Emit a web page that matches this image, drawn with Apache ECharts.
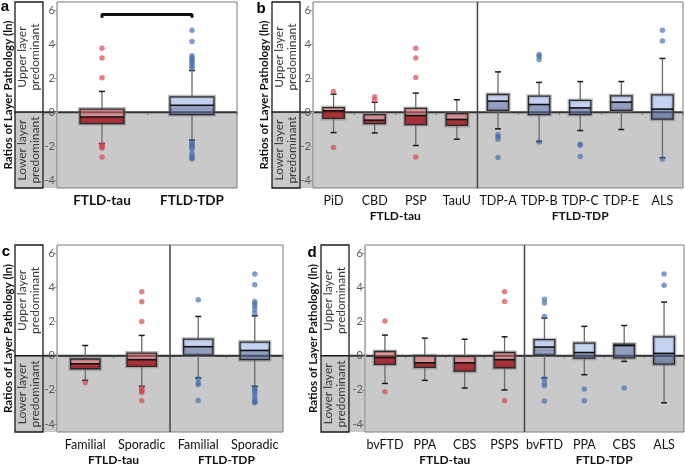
<!DOCTYPE html>
<html><head><meta charset="utf-8">
<script src="https://cdn.jsdelivr.net/npm/echarts@6/dist/echarts.min.js"></script>
<style>html,body{margin:0;padding:0;background:#fff}#c{width:685px;height:465px}</style>
</head><body><div id="c"></div>
<script>
// ---------------- DATA ----------------
const yTicks = [-4, -2, 0, 2, 4, 6];
const groupNames = ['FTLD-tau', 'FTLD-TDP'];

// Panel a
const aCategories = ['FTLD-tau', 'FTLD-TDP'];
const aGroups = [0, 1];
// [lower whisker, Q1, median, Q3, upper whisker]
const aBoxes = [
  [-1.85, -0.67, -0.28, 0.18, 1.22],
  [-1.65, -0.14, 0.41, 0.90, 2.45]
];
const aOutliers = [
  [3.76, 3.18, 2.02, -1.92, -1.98, -2.05, -2.10, -2.63],
  [4.82, 4.16, 3.32, 3.20, 3.08, 2.98, 2.85, 2.70, 2.58, -1.75, -1.88, -1.98, -2.08, -2.18, -2.45, -2.58, -2.68, -2.75]
];
const aBracket = [5.55, 5.75];

// Panel b
const bCategories = ['PiD', 'CBD', 'PSP', 'TauU', 'TDP-A', 'TDP-B', 'TDP-C', 'TDP-E', 'ALS'];
const bGroups = [0, 0, 0, 0, 1, 1, 1, 1, 1];
const bBoxes = [
  [-1.20, -0.37, 0.08, 0.27, 1.06],
  [-1.22, -0.67, -0.47, -0.14, 0.58],
  [-1.96, -0.73, -0.20, 0.22, 1.12],
  [-1.59, -0.78, -0.43, -0.08, 0.73],
  [-0.98, 0.10, 0.65, 1.04, 2.37],
  [-1.72, -0.14, 0.45, 0.94, 1.75],
  [-1.08, -0.14, 0.25, 0.69, 1.80],
  [-1.02, 0.10, 0.59, 0.96, 1.80],
  [-2.68, -0.41, 0.18, 1.02, 3.16]
];
const bOutliers = [
  [1.22, -2.08],
  [0.90, 0.72],
  [3.76, 3.18, 2.04, -2.63],
  [],
  [-1.33, -1.45, -1.60, -2.67],
  [3.39, 3.29, 3.10, -1.75],
  [-1.88, -1.94, -2.60],
  [],
  [4.82, 4.18, -2.75]
];

// Panel c
const cCategories = ['Familial', 'Sporadic', 'Familial', 'Sporadic'];
const cGroups = [0, 0, 1, 1];
const cBoxes = [
  [-1.44, -0.76, -0.47, -0.19, 0.60],
  [-1.79, -0.62, -0.23, 0.16, 1.19],
  [-1.30, 0.04, 0.53, 0.97, 2.30],
  [-1.79, -0.23, 0.31, 0.80, 2.34]
];
const cOutliers = [
  [-1.58],
  [3.74, 3.16, 2.00, -1.90, -2.00, -2.08, -2.15, -2.63],
  [3.27, -1.35, -1.60, -1.68, -2.61],
  [4.78, 4.15, 3.18, 3.04, 2.90, 2.70, 2.50, -1.90, -2.00, -2.10, -2.25, -2.45, -2.60, -2.70, -2.75]
];

// Panel d
const dCategories = ['bvFTD', 'PPA', 'CBS', 'PSPS', 'bvFTD', 'PPA', 'CBS', 'ALS'];
const dGroups = [0, 0, 0, 0, 1, 1, 1, 1];
const dBoxes = [
  [-1.62, -0.50, -0.10, 0.25, 1.21],
  [-1.44, -0.68, -0.41, 0.00, 1.03],
  [-1.89, -0.90, -0.41, -0.04, 0.97],
  [-2.00, -0.70, -0.23, 0.19, 1.11],
  [-1.30, 0.04, 0.51, 0.94, 2.20],
  [-1.11, -0.14, 0.19, 0.74, 1.72],
  [-0.33, -0.12, 0.60, 0.68, 1.77],
  [-2.75, -0.49, 0.14, 1.11, 3.14]
];
const dOutliers = [
  [2.03, -2.10],
  [],
  [],
  [3.74, 3.18, -2.63],
  [3.31, 3.08, 2.30, -1.35, -1.60, -1.75, -2.65],
  [-1.95, -2.63],
  [-1.89],
  [4.78, 4.13]
];

// ---------------- STYLE / LAYOUT ----------------
const FONT = 'Lato, "Noto Sans", sans-serif';
const GRAY = '#c9c9c9';
const COLORS = [
  { upper: 'rgba(214,96,104,0.55)', lower: 'rgba(160,28,38,0.88)', point: 'rgba(212,70,80,0.85)' },
  { upper: 'rgba(160,182,230,0.6)', lower: 'rgba(80,100,150,0.62)', point: 'rgba(70,110,170,0.85)' }
];
const panels = [
  { letter: 'a', cats: aCategories, groups: aGroups, boxes: aBoxes, outliers: aOutliers,
    grid: { left: 57, top: 2, width: 180, height: 186 }, side: 15, titleX: 8, letterPos: [5, 7], catBold: true, divider: null },
  { letter: 'b', cats: bCategories, groups: bGroups, boxes: bBoxes, outliers: bOutliers,
    grid: { left: 313, top: 2, width: 370, height: 186 }, side: 272, titleX: 264, letterPos: [261, 9], catBold: false, divider: 4 },
  { letter: 'c', cats: cCategories, groups: cGroups, boxes: cBoxes, outliers: cOutliers,
    grid: { left: 57, top: 245, width: 226, height: 187 }, side: 15, titleX: 8, letterPos: [6, 252], catBold: false, divider: 2 },
  { letter: 'd', cats: dCategories, groups: dGroups, boxes: dBoxes, outliers: dOutliers,
    grid: { left: 365, top: 245, width: 319, height: 187 }, side: 321, titleX: 313, letterPos: [312, 253], catBold: false, divider: 4 }
];
const SIDE_W = 28;

function renderBox(params, api) {
  const idx = api.value(0);
  const col = COLORS[api.value(6)];
  const pLow = api.coord([idx, api.value(1)]);
  const pQ1 = api.coord([idx, api.value(2)]);
  const pMed = api.coord([idx, api.value(3)]);
  const pQ3 = api.coord([idx, api.value(4)]);
  const pHigh = api.coord([idx, api.value(5)]);
  const band = api.size([1, 0])[0];
  const w = Math.min(band * 0.52, 44);
  const x = pQ1[0];
  const cap = 3;
  const wStyle = { stroke: '#6a6a6a', lineWidth: 1.3 };
  const cStyle = { stroke: '#1a1a1a', lineWidth: 1.5 };
  return {
    type: 'group',
    children: [
      { type: 'line', shape: { x1: x, y1: pHigh[1], x2: x, y2: pQ3[1] }, style: wStyle },
      { type: 'line', shape: { x1: x, y1: pQ1[1], x2: x, y2: pLow[1] }, style: wStyle },
      { type: 'line', shape: { x1: x - cap, y1: pHigh[1], x2: x + cap, y2: pHigh[1] }, style: cStyle },
      { type: 'line', shape: { x1: x - cap, y1: pLow[1], x2: x + cap, y2: pLow[1] }, style: cStyle },
      { type: 'rect', shape: { x: x - w / 2, y: pQ3[1], width: w, height: pQ1[1] - pQ3[1] },
        style: { fill: 'none', stroke: 'rgba(110,110,110,0.45)', lineWidth: 4 } },
      { type: 'rect', shape: { x: x - w / 2, y: pMed[1], width: w, height: pQ1[1] - pMed[1] }, style: { fill: col.lower } },
      { type: 'rect', shape: { x: x - w / 2, y: pQ3[1], width: w, height: pMed[1] - pQ3[1] }, style: { fill: col.upper } },
      { type: 'rect', shape: { x: x - w / 2, y: pQ3[1], width: w, height: pQ1[1] - pQ3[1] },
        style: { fill: 'none', stroke: '#2a2a2a', lineWidth: 1.3 } },
      { type: 'line', shape: { x1: x - w / 2, y1: pMed[1], x2: x + w / 2, y2: pMed[1] }, style: { stroke: '#111', lineWidth: 1.6 } }
    ]
  };
}

const option = { animation: false, backgroundColor: '#fff', grid: [], xAxis: [], yAxis: [], series: [] };

panels.forEach((p, i) => {
  option.grid.push(Object.assign({ containLabel: false }, p.grid));
  option.xAxis.push({
    gridIndex: i, type: 'category', data: p.cats, boundaryGap: true,
    axisLine: { lineStyle: { color: '#8c8c8c', width: 1 } },
    axisTick: { show: true, interval: 0, length: 3, lineStyle: { color: '#8c8c8c' } },
    axisLabel: { interval: 0, margin: 6, color: '#111', fontFamily: FONT,
      fontSize: p.catBold ? 13.5 : 12.5, fontWeight: p.catBold ? 'bold' : 'normal' },
    splitLine: { show: false }
  });
  option.yAxis.push({
    gridIndex: i, type: 'value', min: -4.46, max: 6.48, z: 8,
    axisLine: { show: true, lineStyle: { color: '#b0b0b0' } },
    axisTick: { show: true, length: 3, customValues: yTicks, lineStyle: { color: '#999' } },
    axisLabel: { customValues: yTicks, margin: 2, color: '#5a5a5a', fontFamily: FONT, fontSize: 11 },
    splitLine: { show: false }
  });
  option.series.push({
    type: 'custom', xAxisIndex: i, yAxisIndex: i, z: 3,
    renderItem: renderBox,
    encode: { x: 0, y: [1, 2, 3, 4, 5] },
    data: p.boxes.map((b, k) => [k, ...b, p.groups[k]])
  });
  [0, 1].forEach(gi => {
    const pts = [];
    p.outliers.forEach((arr, k) => { if (p.groups[k] === gi) arr.forEach(v => pts.push([k, v])); });
    option.series.push({
      type: 'scatter', xAxisIndex: i, yAxisIndex: i, z: 4, symbolSize: 5.5,
      itemStyle: { color: COLORS[gi].point }, data: pts, silent: true
    });
  });
});

// significance bracket on panel a
option.series.push({
  type: 'line', xAxisIndex: 0, yAxisIndex: 0, z: 5, symbol: 'none',
  lineStyle: { color: '#111', width: 3 },
  data: [[0, aBracket[0]], [0, aBracket[1]], [1, aBracket[1]], [1, aBracket[0]]]
});

const chart = echarts.init(document.getElementById('c'), null, { renderer: 'canvas' });
chart.setOption(option);

function txt(x, y, text, font, fill, rot, lh) {
  return { type: 'text', x: x, y: y, rotation: rot || 0, z: 10,
    style: { text: text, font: font, fill: fill, textAlign: 'center', align: 'center',
      textVerticalAlign: 'middle', verticalAlign: 'middle', lineHeight: lh || 14 } };
}

const graphics = [];
panels.forEach((p, i) => {
  const gr = p.grid;
  const right = gr.left + gr.width, bottom = gr.top + gr.height;
  const y0 = chart.convertToPixel({ gridIndex: i }, [0, 0])[1];
  const cx = p.cats.map((c, k) => chart.convertToPixel({ gridIndex: i }, [k, 0])[0]);
  // gray lower background
  graphics.push({ type: 'rect', z: -5, shape: { x: p.side, y: y0, width: right - p.side, height: bottom - y0 }, style: { fill: GRAY } });
  // side label boxes
  graphics.push({ type: 'rect', z: -4, shape: { x: p.side, y: gr.top, width: SIDE_W, height: y0 - gr.top }, style: { fill: '#fff', stroke: '#1a1a1a', lineWidth: 1.3 } });
  graphics.push({ type: 'rect', z: -4, shape: { x: p.side, y: y0, width: SIDE_W, height: bottom - y0 }, style: { fill: GRAY, stroke: '#1a1a1a', lineWidth: 1.3 } });
  graphics.push(txt(p.side + SIDE_W / 2, (gr.top + y0) / 2, 'Upper layer\npredominant', '12px ' + FONT, '#3a3a3a', Math.PI / 2, 13));
  graphics.push(txt(p.side + SIDE_W / 2, (y0 + bottom) / 2, 'Lower layer\npredominant', '12px ' + FONT, '#3a3a3a', Math.PI / 2, 13));
  // zero line
  graphics.push({ type: 'line', z: 1, shape: { x1: p.side + SIDE_W, y1: y0, x2: right, y2: y0 }, style: { stroke: '#333', lineWidth: 2 } });
  // plot frame
  graphics.push({ type: 'rect', z: 7, shape: { x: gr.left, y: gr.top, width: gr.width, height: gr.height }, style: { fill: 'none', stroke: '#7a7a7a', lineWidth: 1 } });
  // y title and letter
  graphics.push(txt(p.titleX, gr.top + gr.height / 2, 'Ratios of Layer Pathology (ln)', 'bold 11.5px ' + FONT, '#111', Math.PI / 2));
  graphics.push(txt(p.letterPos[0], p.letterPos[1], p.letter, 'bold 15px "Liberation Sans", Arial, sans-serif', '#000', 0));
  // group divider and labels
  if (p.divider !== null) {
    const dx = (cx[p.divider - 1] + cx[p.divider]) / 2;
    graphics.push({ type: 'line', z: 8, shape: { x1: dx, y1: gr.top, x2: dx, y2: bottom }, style: { stroke: '#444', lineWidth: 1.5 } });
    const g0 = (cx[0] + cx[p.divider - 1]) / 2;
    const g1 = (cx[p.divider] + cx[cx.length - 1]) / 2;
    graphics.push(txt(g0, bottom + 28, groupNames[0], 'bold 12px ' + FONT, '#111', 0));
    graphics.push(txt(g1, bottom + 28, groupNames[1], 'bold 12px ' + FONT, '#111', 0));
  }
});
chart.setOption({ graphic: graphics });
</script>
</body></html>
